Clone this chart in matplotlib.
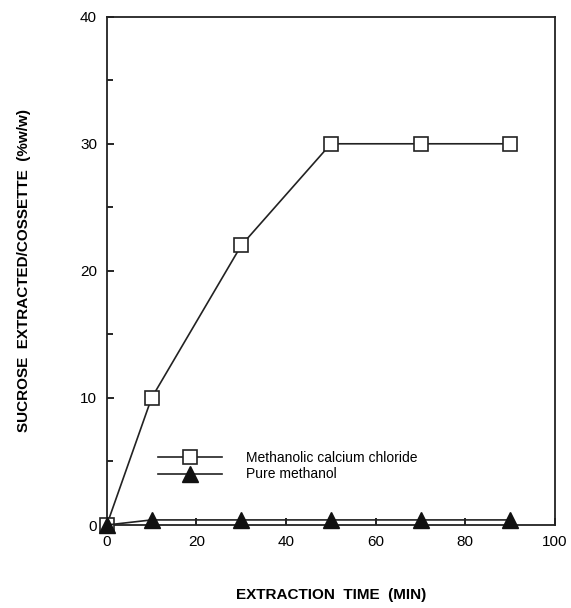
import matplotlib
matplotlib.use("Agg")
import matplotlib.pyplot as plt
from matplotlib.ticker import MultipleLocator

plt.rcParams['font.family'] = ['Liberation Sans', 'DejaVu Sans']

time_min = [0, 10, 30, 50, 70, 90]
methanolic_cacl2 = [0, 10, 22, 30, 30, 30]
pure_methanol = [0, 0.4, 0.4, 0.4, 0.4, 0.4]
x_ticks = [0, 20, 40, 60, 80, 100]
y_ticks = [0, 10, 20, 30, 40]

fig = plt.figure(figsize=(5.71, 6.08), dpi=100)
ax = fig.add_axes([0.187, 0.1365, 0.785, 0.836])

ax.plot(time_min, methanolic_cacl2, color='#222222', lw=1.2, marker='s',
        markersize=10, markerfacecolor='white', markeredgecolor='#222222',
        markeredgewidth=1.2, label='Methanolic calcium chloride', zorder=3,
        clip_on=False)
ax.plot(time_min, pure_methanol, color='#222222', lw=1.2, marker='^',
        markersize=11, markerfacecolor='#111111', markeredgecolor='#111111',
        label='Pure methanol', zorder=4, clip_on=False)

ax.set_xlim(0, 100)
ax.set_ylim(0, 40)
ax.set_xticks(x_ticks)
ax.set_yticks(y_ticks)
ax.yaxis.set_minor_locator(MultipleLocator(5))
ax.tick_params(axis='both', which='both', direction='in', top=False, right=False)
ax.tick_params(axis='both', which='major', length=5, width=1.2, labelsize=11, pad=7)
ax.tick_params(axis='y', which='minor', length=4, width=1.2)
for s in ax.spines.values():
    s.set_linewidth(1.3)
    s.set_color('#222222')

ax.set_xlabel('EXTRACTION  TIME  (MIN)', fontsize=11, fontweight='bold', labelpad=28)
ax.set_ylabel('SUCROSE  EXTRACTED/COSSETTE  (%w/w)', fontsize=11, fontweight='bold', labelpad=35)

leg = ax.legend(loc='lower left', bbox_to_anchor=(0.099, 0.072), frameon=False,
                fontsize=10, handlelength=4.6, handletextpad=1.7,
                labelspacing=0.2, borderpad=0)

fig.savefig('out.png', dpi=100)
